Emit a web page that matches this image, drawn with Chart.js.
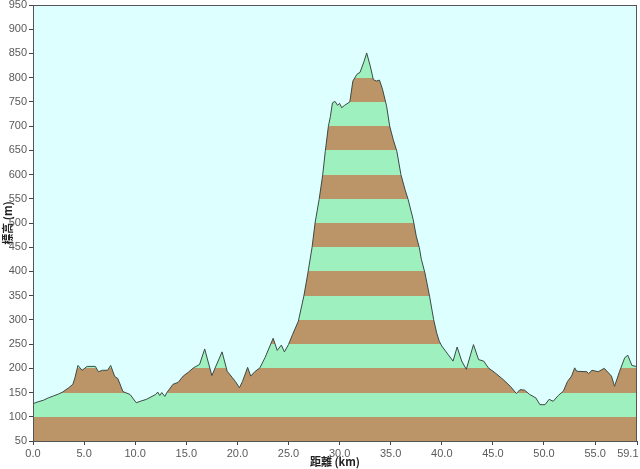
<!DOCTYPE html>
<html>
<head>
<meta charset="utf-8">
<script src="https://cdn.jsdelivr.net/npm/chart.js@4"></script>
<style>
  html, body { margin: 0; padding: 0; background: #ffffff; }
  #wrap { width: 640px; height: 469px; }
</style>
</head>
<body>
<div id="wrap"><canvas id="profileChart"></canvas></div>
<script>
// Distance along the route (km) and elevation (m)
const distanceKm = [0, 0.5, 1.0, 1.5, 2.0, 2.5, 2.9, 3.5, 3.9, 4.1, 4.4, 4.8, 5.3, 6.1, 6.4, 6.8, 7.3, 7.6, 8.0, 8.3,
    8.8, 9.5, 10.1, 10.5, 11.1, 12.0, 12.2, 12.4, 12.6, 12.9, 13.1, 13.7, 14.2, 14.7, 15.2, 15.7, 16.3, 16.8, 17.5, 18.5,
    19.0, 19.5, 19.8, 20.2, 20.5, 21.0, 21.3, 21.7, 22.2, 22.7, 23.5, 23.9, 24.3, 24.6, 25.0, 25.4, 25.96, 26.5, 26.9, 27.3,
    27.6, 28.0, 28.35, 28.6, 28.9, 29.1, 29.3, 29.55, 29.8, 30.0, 30.2, 30.5, 31.0, 31.3, 31.7, 32.0, 32.4, 32.65, 33.0, 33.3,
    33.6, 33.9, 34.2, 34.6, 34.9, 35.25, 35.6, 36.0, 36.4, 36.7, 37.2, 37.5, 37.8, 38.0, 38.35, 38.8, 39.2, 39.5, 39.75, 40.0,
    40.6, 41.1, 41.5, 41.95, 42.4, 43.1, 43.6, 44.1, 44.55, 45.2, 46.0, 46.7, 47.3, 47.65, 48.1, 48.6, 49.2, 49.6, 50.1, 50.5,
    50.9, 51.4, 51.9, 52.3, 52.7, 53.0, 53.2, 54.2, 54.35, 54.7, 55.3, 55.9, 56.6, 56.9, 57.4, 57.9, 58.2, 58.6, 59.0, 59.1];
const elevationM = [127, 131, 134, 139, 143, 147, 151, 160, 167, 180, 206, 196, 204, 204, 193, 196, 196, 206, 183, 179,
    152, 146, 129, 132, 136, 146, 151, 144, 150, 142, 150, 167, 171, 184, 192, 201, 208, 240, 185, 234,
    194, 181, 173, 160, 173, 202, 184, 193, 201, 222, 262, 237, 248, 234, 249, 270, 297, 349, 397, 449,
    500, 549, 600, 648, 699, 720, 748, 751, 743, 747, 738, 743, 750, 793, 807, 811, 834, 851, 824, 796,
    793, 795, 776, 741, 700, 672, 648, 600, 569, 549, 507, 473, 449, 425, 397, 349, 301, 273, 256, 246,
    229, 215, 244, 215, 198, 249, 218, 215, 201, 191, 177, 163, 148, 156, 155, 146, 139, 125, 125, 136,
    132, 144, 153, 173, 184, 201, 194, 193, 189, 196, 193, 200, 184, 163, 194, 222, 227, 206, 204, 205];

// Axis ticks
const xTicks = [0, 5, 10, 15, 20, 25, 30, 35, 40, 45, 50, 55, 59.1];
const yMin = 50;
const yMax = 950;
const yStep = 50;

// Band colours (alternate every 50 m)
const bandColors = ['#bb9467', '#9ff0bf'];

const points = distanceKm.map((d, i) => ({ x: d, y: elevationM[i] }));

// Striped fill built as a hard-stop gradient over the y scale
function bandFill(context) {
    const chart = context.chart;
    if (!chart.chartArea) return bandColors[0];
    const y = chart.scales.y;
    const bottom = y.getPixelForValue(yMin);
    const top = y.getPixelForValue(yMax);
    const g = chart.ctx.createLinearGradient(0, bottom, 0, top);
    const n = (yMax - yMin) / yStep;
    for (let i = 0; i < n; i++) {
        const c = bandColors[i % 2];
        g.addColorStop(i / n, c);
        g.addColorStop((i + 1) / n, c);
    }
    return g;
}

// Light cyan plot background and frame
const plotBackground = {
    id: 'plotBackground',
    beforeDraw(chart) {
        const { ctx, chartArea: a } = chart;
        ctx.save();
        ctx.fillStyle = '#ddffff';
        ctx.fillRect(a.left, a.top, a.right - a.left, a.bottom - a.top);
        ctx.restore();
    },
    afterDraw(chart) {
        const { ctx, chartArea: a } = chart;
        ctx.save();
        ctx.strokeStyle = '#555555';
        ctx.lineWidth = 1;
        ctx.strokeRect(a.left + 0.5, a.top + 0.5, a.right - a.left - 1, a.bottom - a.top);
        ctx.restore();
    }
};

const tickFont = { family: '"Liberation Sans", Arial, sans-serif', size: 11 };
const titleFont = { family: '"Noto Sans CJK JP", "Liberation Sans", sans-serif', size: 11, weight: 'bold' };

new Chart(document.getElementById('profileChart'), {
    type: 'line',
    data: {
        datasets: [{
            data: points,
            borderColor: '#3b4a45',
            borderWidth: 1,
            pointRadius: 0,
            tension: 0,
            fill: 'start',
            backgroundColor: bandFill
        }]
    },
    options: {
        responsive: true,
        maintainAspectRatio: false,
        animation: false,
        layout: { padding: { top: 5, right: 3, left: 0, bottom: 0 } },
        plugins: {
            legend: { display: false },
            tooltip: { enabled: false }
        },
        scales: {
            x: {
                type: 'linear',
                min: 0,
                max: 59.1,
                afterBuildTicks: (scale) => { scale.ticks = xTicks.map(v => ({ value: v })); },
                afterFit: (scale) => { scale.height = 28; scale.paddingLeft = 0; scale.paddingRight = 0; },
                ticks: {
                    autoSkip: false,
                    maxRotation: 0,
                    padding: 2,
                    color: '#5a5a5a',
                    font: tickFont,
                    callback: (v, i, ticks) => i === ticks.length - 1 ? v.toFixed(1) + '      ' : v.toFixed(1)
                },
                grid: { display: true, drawOnChartArea: false, tickLength: 4, color: '#444444' },
                border: { color: '#444444' },
                title: { display: true, text: '距離 (km)', color: '#222222', font: titleFont, padding: { top: 0, bottom: 1 } }
            },
            y: {
                min: yMin,
                max: yMax,
                afterFit: (scale) => { scale.width = 33; scale.paddingTop = 0; scale.paddingBottom = 0; },
                ticks: {
                    stepSize: yStep,
                    padding: 2,
                    color: '#5a5a5a',
                    font: tickFont
                },
                grid: { display: true, drawOnChartArea: false, tickLength: 4, color: '#444444' },
                border: { color: '#444444' },
                title: { display: true, text: '標高 (m)', color: '#222222', font: titleFont, padding: { top: 1, bottom: 0 } }
            }
        }
    },
    plugins: [plotBackground]
});
</script>
</body>
</html>
